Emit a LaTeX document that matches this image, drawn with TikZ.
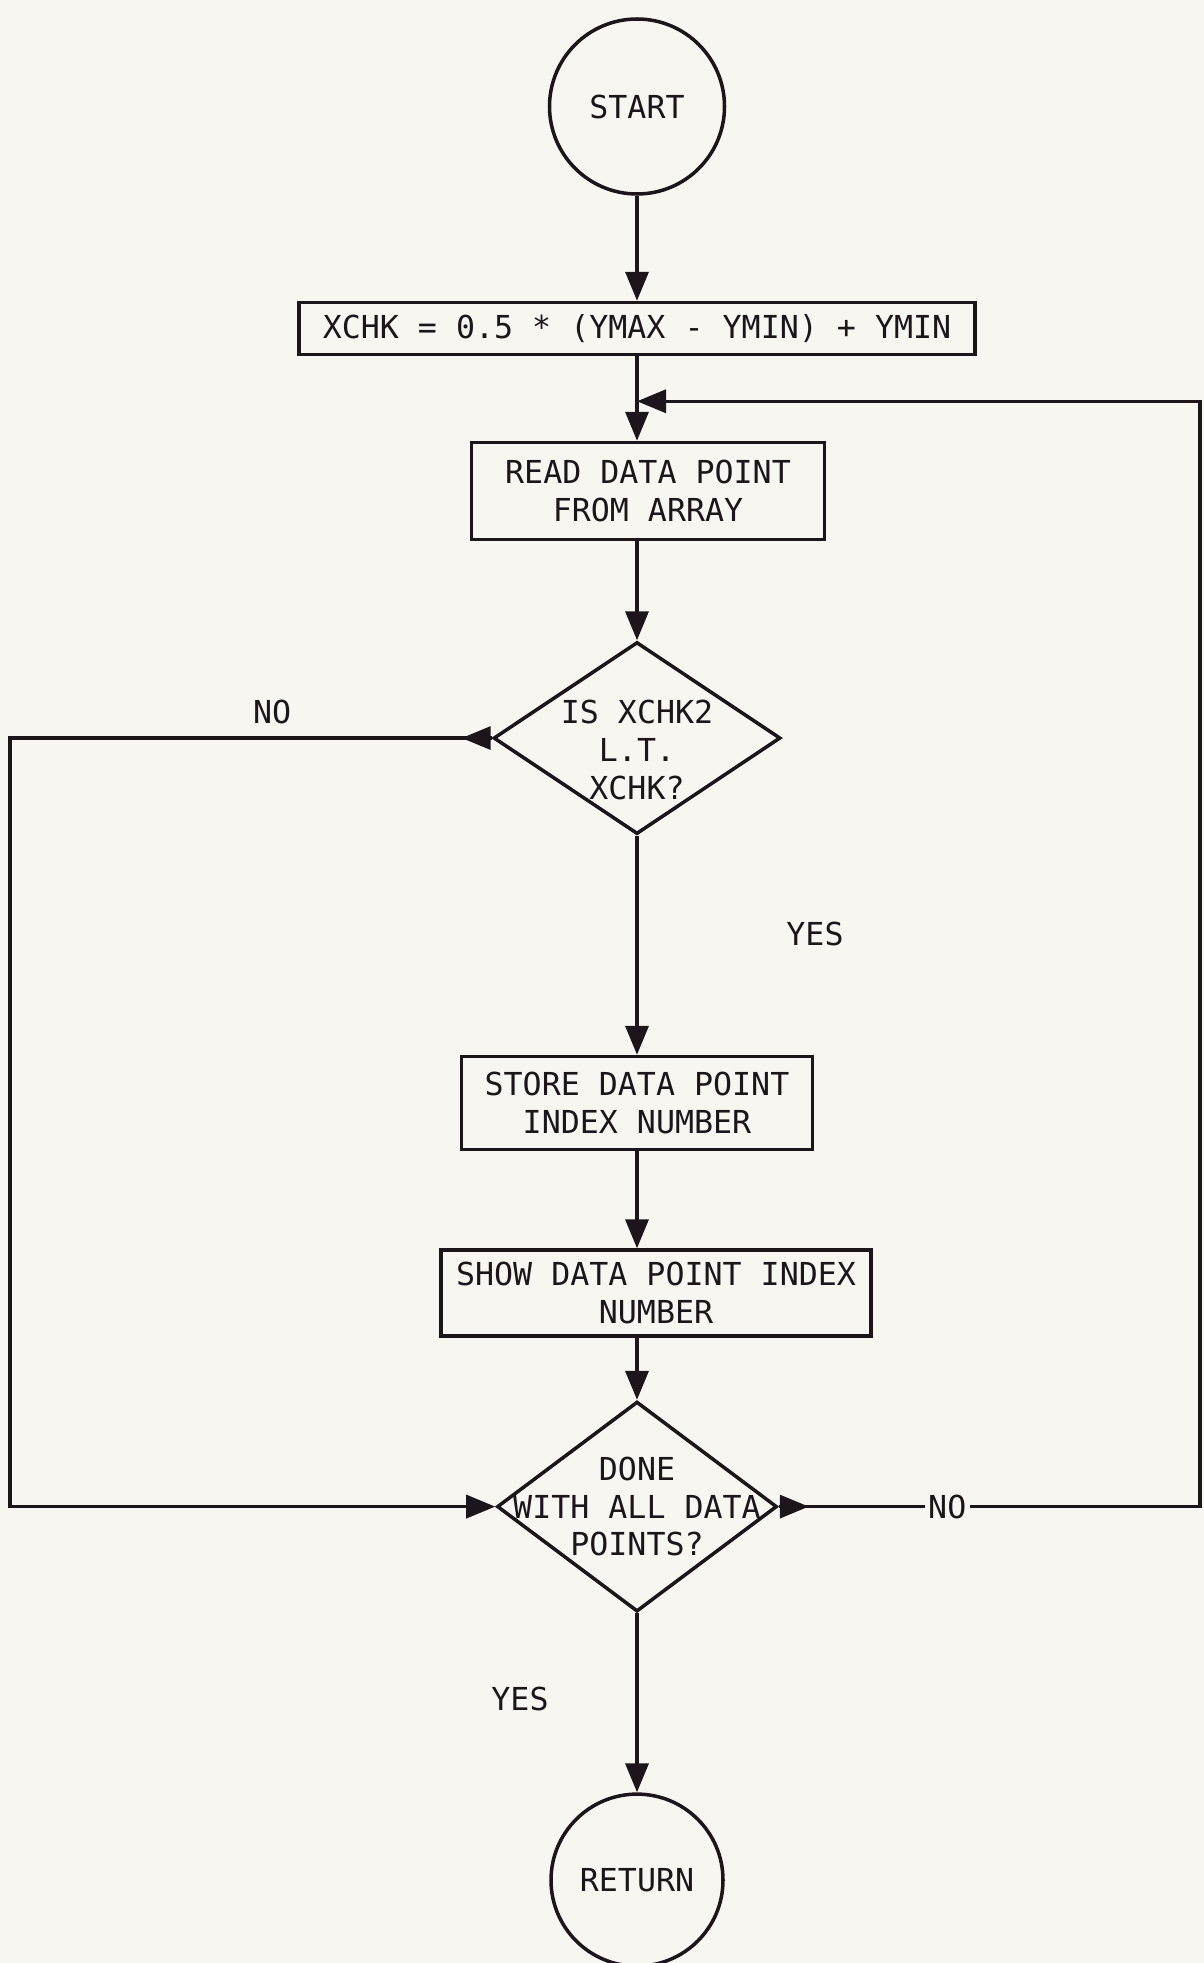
\documentclass[tikz,border=0pt]{standalone}
\usepackage{fontspec}
\usepackage{tikz}
\usetikzlibrary{shapes.geometric, arrows.meta, positioning, decorations.markings}
\newfontfamily\plotfont{DejaVu Sans Mono}
\newcommand{\flowfont}{\plotfont\fontsize{9}{10.7}\selectfont}
\definecolor{paper}{RGB}{248,246,241}
\definecolor{ink}{RGB}{28,22,28}
\tikzset{
  block/.style={rectangle, draw=ink, line width=1pt, align=center,
    font=\flowfont, text=ink, inner sep=2pt},
  terminal/.style={circle, draw=ink, line width=1pt,
    font=\flowfont, text=ink, inner sep=0pt},
  decision/.style={diamond, draw=ink, line width=1pt, inner sep=0pt},
  dtext/.style={align=center, font=\flowfont, text=ink, inner sep=0pt},
  flowlabel/.style={font=\flowfont, text=ink, inner sep=1pt},
  arrow/.style={-{Triangle[length=0.29cm, width=0.23cm]}, line width=1pt, color=ink},
  line/.style={line width=1pt, color=ink},
  exitarrow/.style={postaction={decorate}, decoration={markings,
    mark=at position 0.30cm with {\arrow{Triangle[length=0.29cm, width=0.23cm]}}}}
}

\begin{document}
\begin{tikzpicture}[node distance=1cm]
  \fill[paper] (0,0) rectangle (12.04,-19.63);
  \useasboundingbox (0,0) rectangle (12.04,-19.63);
  \node[terminal, minimum size=1.75cm] (start) at (6.37,-1.065) {START};
  \node[block, below=1.05cm of start, minimum width=6.76cm, minimum height=0.52cm] (xchk)
    {XCHK = 0.5 * (YMAX - YMIN) + YMIN};
  \node[block, below=0.845cm of xchk, xshift=0.11cm, minimum width=3.53cm, minimum height=0.97cm] (read)
    {READ DATA POINT\\FROM ARRAY};
  \node[decision, below=0.99cm of read.south -| xchk.south, anchor=north, minimum width=2.87cm, minimum height=1.92cm,
    label={[dtext, yshift=-0.12cm]center:{IS XCHK2\\L.T.\\XCHK?}}] (test) {};
  \node[block, below=2.19cm of test, minimum width=3.51cm, minimum height=0.93cm] (store)
    {STORE DATA POINT\\INDEX NUMBER};
  \node[block, below=0.97cm of store, xshift=0.19cm, minimum width=4.30cm, minimum height=0.86cm] (show)
    {SHOW DATA POINT INDEX\\NUMBER};
  \node[decision, below=0.62cm of show.south -| store.south, anchor=north, minimum width=2.80cm, minimum height=2.10cm,
    label={[dtext]center:{DONE\\WITH ALL DATA\\POINTS?}}] (done) {};
  \node[terminal, below=1.79cm of done, minimum size=1.72cm] (ret) {RETURN};
  \coordinate[below=0.45cm of xchk] (merge);
  \coordinate (leftx) at (0.10,0);
  \coordinate (rightx) at (12.00,0);
  \draw[arrow] (start) -- (xchk);
  \draw[arrow] (xchk) -- (xchk |- read.north);
  \draw[arrow] (read.south -| test) -- (test);
  \draw[arrow] (test) -- node[flowlabel, pos=0.45, xshift=1.78cm] {YES} (store);
  \draw[arrow] (store) -- (store |- show.north);
  \draw[arrow] (show.south -| done) -- (done);
  \draw[arrow] (done) -- node[flowlabel, pos=0.48, xshift=-1.17cm] {YES} (ret);
  \draw[arrow, exitarrow] (test.west) -- node[flowlabel, above=0.09cm, pos=0.456] {NO}
    (test.west -| leftx) |- (done.west);
  \draw[arrow, exitarrow] (done.east) -- node[flowlabel, fill=paper, pos=0.40] {NO}
    (done.east -| rightx) |- (merge);
\end{tikzpicture}
\end{document}
